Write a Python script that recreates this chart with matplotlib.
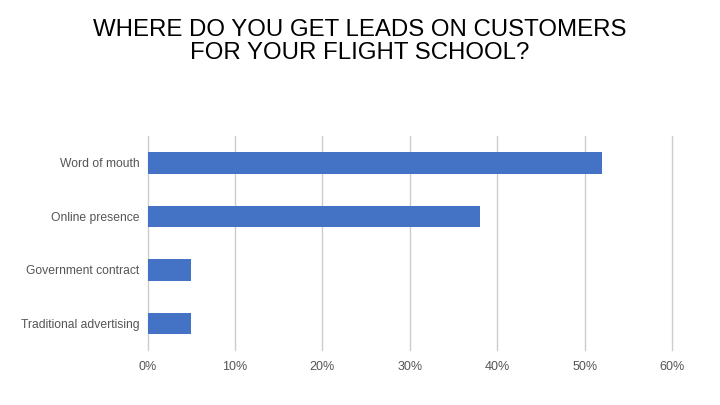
import matplotlib
matplotlib.use('Agg')
import matplotlib.pyplot as plt
from matplotlib.ticker import PercentFormatter

plt.rcParams['font.family'] = ['Liberation Sans', 'DejaVu Sans']

# data
categories = ['Word of mouth', 'Online presence', 'Government contract', 'Traditional advertising']
shares = [52, 38, 5, 5]
ticks = [0, 10, 20, 30, 40, 50, 60]

fig = plt.figure(figsize=(7.2, 4.05), dpi=100)
ax = fig.add_axes([0.2049, 0.1358, 0.7285, 0.528])

ypos = list(range(len(categories)))
ax.barh(ypos, shares, height=0.4, color='#4472C4', zorder=3)
ax.set_yticks(ypos)
ax.set_yticklabels(categories)
ax.set_ylim(len(categories) - 0.5, -0.5)

ax.set_xlim(0, 60)
ax.set_xticks(ticks)
ax.xaxis.set_major_formatter(PercentFormatter(decimals=0))
ax.grid(axis='x', color='#cccccc', linewidth=1, zorder=0)
for gl in ax.get_xgridlines():
    gl.set_clip_on(False)

for s in ax.spines.values():
    s.set_visible(False)
ax.tick_params(axis='both', length=0, labelsize=8.7, labelcolor='#555555')
ax.tick_params(axis='x', labelsize=9)
ax.tick_params(axis='y', pad=6)
ax.tick_params(axis='x', pad=8)

fig.text(0.5, 0.897, 'WHERE DO YOU GET LEADS ON CUSTOMERS\nFOR YOUR FLIGHT SCHOOL?',
         ha='center', va='center', fontsize=17.3, color='black', linespacing=1.05)

fig.savefig('out.png', dpi=100)
